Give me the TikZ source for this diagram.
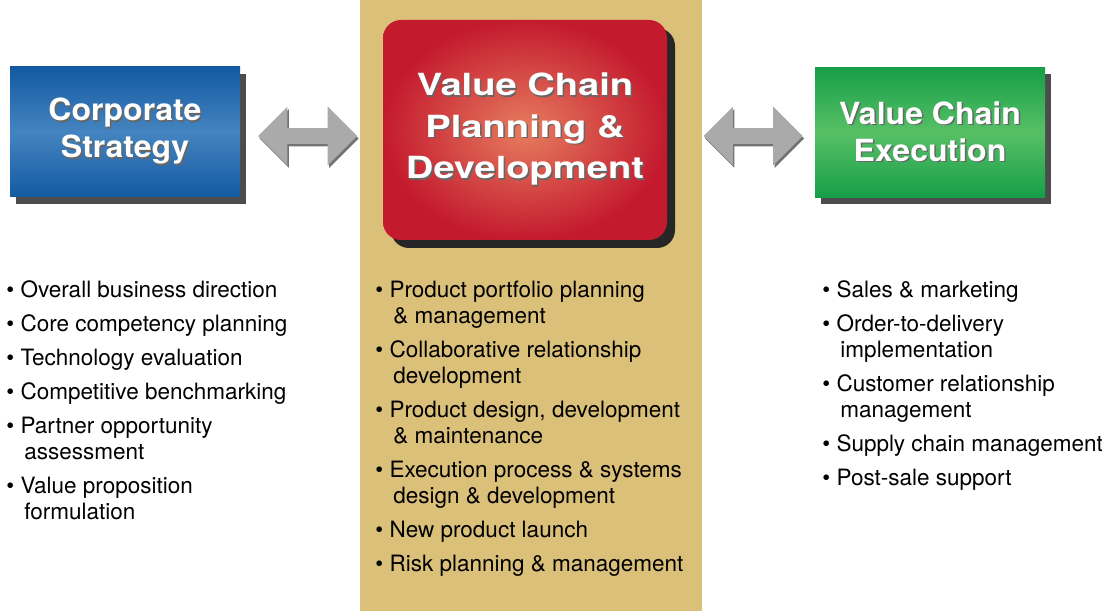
\documentclass[tikz,border=0pt]{standalone}
\usepackage{fontspec}
\setmainfont{TeX Gyre Heros}
\newfontfamily\sidefont[FakeStretch=1.05]{TeX Gyre Heros}
\newfontfamily\midfont[FakeStretch=1.25]{TeX Gyre Heros}
\usetikzlibrary{shapes.arrows,shadows}
\definecolor{colbg}{RGB}{219,192,122}
\definecolor{bluedark}{RGB}{20,90,162}
\definecolor{bluelight}{RGB}{68,132,192}
\definecolor{greendark}{RGB}{22,158,72}
\definecolor{greenlight}{RGB}{88,192,102}
\definecolor{reddark}{RGB}{196,26,46}
\definecolor{redlight}{RGB}{230,125,95}
\definecolor{arrgray}{RGB}{170,170,170}
\newcommand{\shtxt}[1]{\rlap{\kern1.5pt\raisebox{-1.5pt}{\color{black!60}#1}}#1}
\begin{document}
\begin{tikzpicture}[
        x=1pt, y=1pt,
        thick
    ]
    \tikzset{
        sidebox/.style = {rectangle, minimum width=230pt, minimum height=130pt, text=white, align=center,
            font=\sidefont\bfseries\fontsize{30.5}{37}\selectfont,
            drop shadow={shadow xshift=6pt, shadow yshift=-7pt, fill=black!70, opacity=1}},
        bluebox/.style = {sidebox, top color=bluedark, bottom color=bluedark, middle color=bluelight},
        greenbox/.style = {sidebox, top color=greendark, bottom color=greendark, middle color=greenlight},
        redbox/.style = {rectangle, rounded corners=18pt, minimum width=284pt, minimum height=220pt,
            text=white, align=center, inner color=redlight, outer color=reddark,
            font=\midfont\bfseries\fontsize{30.5}{41.5}\selectfont,
            drop shadow={shadow xshift=8pt, shadow yshift=-8pt, fill=black!85, opacity=1}},
        dblarrow/.style = {double arrow, double arrow head extend=21.5pt, minimum width=58pt,
            minimum height=99pt, inner xsep=0pt, inner ysep=7.5pt, fill=arrgray,
            drop shadow={shadow xshift=1.5pt, shadow yshift=-2.5pt, fill=black!55, opacity=1}},
        bullist/.style = {anchor=north west, inner sep=0pt, align=left, font=\fontsize{22.5}{26}\selectfont},
    }
    \useasboundingbox (0,0) rectangle (1102,611);
    \fill[colbg] (360,0) rectangle (702,611);
    %
    \node[bluebox] at (125,479) (cs) {\shtxt{Corporate}\\\shtxt{Strategy}};
    \node[redbox] at (525,481) (vc) {\shtxt{Value Chain}\\\shtxt{Planning \&}\\\shtxt{Development}};
    \node[greenbox] at (930,478.5) (ex) {\shtxt{Value Chain}\\\shtxt{Execution}};
    %
    \node[dblarrow] at (307.5,475) (al) {};
    \node[dblarrow] at (753,475) (ar) {};
    %
    \node[bullist] at (6,330.5) (lcs) {%
        \textbullet\ Overall business direction\\[8pt]
        \textbullet\ Core competency planning\\[8pt]
        \textbullet\ Technology evaluation\\[8pt]
        \textbullet\ Competitive benchmarking\\[8pt]
        \textbullet\ Partner opportunity\\
        \hspace*{18pt}assessment\\[8pt]
        \textbullet\ Value proposition\\
        \hspace*{18pt}formulation};
    \node[bullist] at (375,330.5) (lvc) {%
        \textbullet\ Product portfolio planning\\
        \hspace*{18pt}\& management\\[8pt]
        \textbullet\ Collaborative relationship\\
        \hspace*{18pt}development\\[8pt]
        \textbullet\ Product design, development\\
        \hspace*{18pt}\& maintenance\\[8pt]
        \textbullet\ Execution process \& systems\\
        \hspace*{18pt}design \& development\\[8pt]
        \textbullet\ New product launch\\[8pt]
        \textbullet\ Risk planning \& management};
    \node[bullist] at (822,330.5) (lex) {%
        \textbullet\ Sales \& marketing\\[8pt]
        \textbullet\ Order-to-delivery\\
        \hspace*{18pt}implementation\\[8pt]
        \textbullet\ Customer relationship\\
        \hspace*{18pt}management\\[8pt]
        \textbullet\ Supply chain management\\[8pt]
        \textbullet\ Post-sale support};
\end{tikzpicture}
\end{document}
